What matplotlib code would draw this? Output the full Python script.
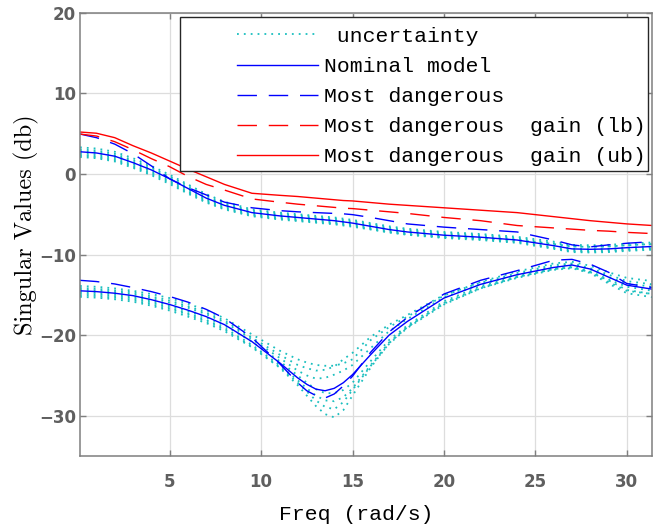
import matplotlib
matplotlib.use('Agg')
import matplotlib.pyplot as plt
from matplotlib.patches import Rectangle
from matplotlib.font_manager import FontProperties

# frequency grid (rad/s)
freq = [0.1, 1, 2, 3, 4, 5, 6, 7, 8, 9.5, 11, 12, 12.5, 13, 13.5, 14, 14.5, 15,
        16, 17, 18, 20, 22, 24, 26, 27, 28, 29, 30, 31.4]

# nominal model (max / min singular value)
nom_hi = [2.75, 2.6, 2.2, 1.4, 0.5, -0.6, -1.8, -3.0, -3.9, -4.8, -5.2, -5.4, -5.5, -5.6, -5.7,
          -5.8, -5.95, -6.1, -6.5, -6.9, -7.2, -7.6, -7.85, -8.2, -8.9, -9.3, -9.35, -9.3, -9.15, -9.0]
nom_lo = [-14.5, -14.6, -14.8, -15.1, -15.6, -16.2, -16.9, -17.7, -18.7, -20.8, -23.4, -25.3, -26.1,
          -26.7, -26.9, -26.6, -25.9, -24.9, -22.4, -20.0, -18.3, -15.4, -13.7, -12.5, -11.6, -11.3,
          -11.8, -12.8, -13.8, -14.3]

# most dangerous perturbation
md_hi = [4.95, 4.5, 3.7, 2.5, 1.0, -0.6, -1.7, -2.6, -3.5, -4.2, -4.55, -4.7, -4.75, -4.8, -4.85,
         -4.9, -4.95, -5.05, -5.4, -5.8, -6.2, -6.6, -6.9, -7.2, -8.2, -8.8, -9.05, -8.8, -8.6, -8.4]
md_lo = [-13.2, -13.35, -13.65, -14.1, -14.6, -15.2, -15.9, -16.8, -17.9, -20.3, -23.5, -25.9, -26.9,
         -27.5, -27.8, -27.3, -26.3, -25.1, -22.1, -19.6, -17.8, -14.9, -13.2, -12.0, -10.7, -10.6,
         -11.2, -12.2, -13.6, -14.1]

# most dangerous gain, lower and upper bound
lb_hi = [4.95, 4.7, 4.0, 3.0, 1.9, 0.9, -0.3, -1.3, -2.0, -3.1, -3.5, -3.75, -3.85, -3.95, -4.05,
         -4.15, -4.25, -4.3, -4.5, -4.7, -4.9, -5.4, -5.8, -6.4, -6.7, -6.85, -7.0, -7.1, -7.25, -7.4]
ub_hi = [5.2, 5.05, 4.5, 3.5, 2.6, 1.6, 0.6, -0.35, -1.3, -2.4, -2.65, -2.8, -2.9, -3.0, -3.1,
         -3.2, -3.3, -3.35, -3.55, -3.75, -3.9, -4.2, -4.5, -4.8, -5.3, -5.55, -5.8, -6.0, -6.2, -6.4]

# sampled uncertain models
unc_hi = [
    [3.3, 3.15, 2.75, 1.95, 1.0, -0.1, -1.3, -2.5, -3.45, -4.4, -4.8, -5.0, -5.1, -5.2, -5.3,
     -5.4, -5.55, -5.7, -6.1, -6.5, -6.8, -7.2, -7.45, -7.8, -8.4, -8.8, -8.85, -8.8, -8.65, -8.5],
    [3.05, 2.9, 2.5, 1.7, 0.8, -0.3, -1.5, -2.7, -3.65, -4.55, -4.95, -5.15, -5.25, -5.35, -5.45,
     -5.55, -5.7, -5.85, -6.25, -6.65, -6.95, -7.35, -7.6, -7.95, -8.6, -9.0, -9.05, -9.0, -8.85, -8.7],
    [2.85, 2.7, 2.3, 1.5, 0.6, -0.5, -1.7, -2.9, -3.8, -4.7, -5.1, -5.3, -5.4, -5.5, -5.6,
     -5.7, -5.85, -6.0, -6.4, -6.8, -7.1, -7.5, -7.75, -8.1, -8.85, -9.3, -9.35, -9.3, -9.15, -9.0],
    [2.6, 2.45, 2.05, 1.25, 0.35, -0.75, -1.95, -3.15, -4.0, -4.9, -5.3, -5.5, -5.6, -5.7, -5.8,
     -5.9, -6.05, -6.2, -6.6, -7.0, -7.3, -7.7, -7.95, -8.35, -9.1, -9.5, -9.55, -9.5, -9.35, -9.2],
    [2.4, 2.25, 1.85, 1.05, 0.15, -0.95, -2.15, -3.3, -4.15, -5.05, -5.45, -5.65, -5.75, -5.85, -5.95,
     -6.05, -6.2, -6.35, -6.75, -7.15, -7.45, -7.85, -8.1, -8.45, -9.2, -9.6, -9.65, -9.6, -9.45, -9.3],
    [2.25, 2.1, 1.7, 0.9, 0.0, -1.1, -2.3, -3.45, -4.3, -5.15, -5.55, -5.75, -5.85, -5.95, -6.05,
     -6.15, -6.3, -6.45, -6.85, -7.25, -7.55, -7.95, -8.2, -8.55, -9.3, -9.7, -9.75, -9.7, -9.55, -9.4],
    [2.1, 1.95, 1.55, 0.75, -0.15, -1.25, -2.45, -3.55, -4.4, -5.25, -5.65, -5.85, -5.95, -6.05, -6.15,
     -6.25, -6.4, -6.55, -6.9, -7.25, -7.5, -7.85, -8.0, -8.2, -8.7, -9.0, -9.05, -9.0, -8.85, -8.7],
]
unc_lo = [
    [-13.9, -14.0, -14.2, -14.5, -14.9, -15.4, -16.1, -16.9, -17.9, -19.9, -21.9, -23.0, -23.4, -23.7,
     -23.8, -23.8, -23.5, -23.0, -20.6, -19.0, -17.7, -15.1, -13.4, -12.1, -11.1, -10.9, -11.4, -12.2, -12.9, -13.3],
    [-14.15, -14.25, -14.45, -14.7, -15.2, -15.7, -16.4, -17.2, -18.2, -20.3, -22.4, -23.7, -24.1, -24.4,
     -24.3, -23.9, -23.0, -22.2, -20.2, -18.7, -17.5, -15.0, -13.5, -12.3, -11.3, -11.1, -11.7, -12.5, -13.3, -13.7],
    [-14.35, -14.45, -14.65, -14.9, -15.4, -15.95, -16.6, -17.4, -18.4, -20.5, -22.8, -24.4, -25.0, -25.4,
     -25.3, -24.9, -24.4, -23.7, -21.6, -19.5, -18.0, -15.3, -13.7, -12.5, -11.5, -11.2, -11.8, -12.8, -13.6, -14.0],
    [-14.65, -14.75, -14.95, -15.25, -15.75, -16.35, -17.05, -17.8, -18.8, -20.8, -23.2, -25.0, -25.9, -26.7,
     -27.2, -27.2, -26.8, -25.9, -23.2, -20.6, -18.8, -15.8, -13.9, -12.7, -11.7, -11.5, -12.1, -13.1, -14.0, -14.5],
    [-14.85, -14.95, -15.15, -15.45, -15.95, -16.55, -17.3, -18.1, -19.1, -21.2, -23.7, -25.6, -26.6, -27.5,
     -28.1, -28.2, -27.7, -26.6, -23.7, -20.9, -19.0, -16.0, -14.1, -12.8, -11.8, -11.6, -12.2, -13.4, -14.5, -14.9],
    [-15.05, -15.15, -15.35, -15.65, -16.15, -16.75, -17.45, -18.3, -19.3, -21.4, -23.9, -25.9, -27.0, -28.1,
     -28.9, -29.2, -28.3, -26.8, -23.8, -21.1, -19.1, -16.2, -14.2, -12.9, -11.9, -11.7, -12.3, -13.6, -14.8, -15.3],
    [-15.25, -15.35, -15.55, -15.85, -16.35, -16.95, -17.7, -18.5, -19.5, -21.5, -24.0, -26.2, -27.5, -28.8,
     -29.8, -30.2, -29.3, -27.5, -24.0, -21.0, -19.0, -16.1, -14.2, -12.8, -11.8, -11.6, -12.2, -13.2, -14.4, -14.9],
]

xticks = [5, 10, 15, 20, 25, 30]
yticks = [-30, -20, -10, 0, 10, 20]

cian = '#1abfbf'
punteado = (0, (1, 2.8))
rayado = (0, (14, 8.5))

fig = plt.figure(figsize=(6.61, 5.26), dpi=100)
ax = fig.add_axes([0.121, 0.133, 0.8661, 0.8428])

for k in range(len(unc_hi)):
    etiqueta = ' uncertainty' if k == 0 else None
    ax.plot(freq, unc_hi[k], color=cian, lw=1.3, ls=punteado, label=etiqueta)
    ax.plot(freq, unc_lo[k], color=cian, lw=1.3, ls=punteado)

ax.plot(freq, nom_hi, color='blue', lw=1.0, label='Nominal model')
ax.plot(freq, nom_lo, color='blue', lw=1.0)
ax.plot(freq, md_hi, color='blue', lw=1.0, ls=rayado, label='Most dangerous')
ax.plot(freq, md_lo, color='blue', lw=1.0, ls=rayado)
ax.plot(freq, lb_hi, color='red', lw=1.0, ls=rayado, label='Most dangerous  gain (lb)')
ax.plot(freq, ub_hi, color='red', lw=1.0, label='Most dangerous  gain (ub)')

ax.set_xlim(0.1, 31.4)
ax.set_ylim(-35, 20)
ax.set_xticks(xticks)
ax.set_yticks(yticks)
ax.grid(True, color='#dddddd', lw=0.9)
ax.set_axisbelow(True)

gris = '#7f7f7f'
for s in ax.spines.values():
    s.set_color(gris)
    s.set_linewidth(1.1)
ax.tick_params(direction='in', top=True, right=True, length=4, width=1.0, color=gris,
               labelcolor='#5f5f5f', labelsize=12)
ax.tick_params(axis='x', pad=12)
ax.tick_params(axis='y', pad=3)
for t in ax.get_xticklabels() + ax.get_yticklabels():
    t.set_fontweight('bold')
    t.set_family('DejaVu Sans')

ax.set_xlabel('Freq (rad/s)', family='Liberation Mono', fontsize=15.4)
ax.xaxis.set_label_coords(0.483, -0.11)
ax.set_ylabel('Singular Values (db)', family='cmr10', fontsize=17.5)
ax.yaxis.set_label_coords(-0.071, 0.521)

# caja de la leyenda
ax.add_patch(Rectangle((0.1747, 0.643), 0.8173, 0.347, transform=ax.transAxes,
                       facecolor='white', edgecolor='#262626', lw=1.0, zorder=5))
leg = ax.legend(loc='upper left', bbox_to_anchor=(0.2742, 0.968), frameon=False,
                borderpad=0, borderaxespad=0,
                prop=FontProperties(family='Liberation Mono', size=15.4),
                handlelength=3.77, handletextpad=0.28, labelspacing=0.52)
leg.set_zorder(6)

fig.savefig('out.png', dpi=100)
